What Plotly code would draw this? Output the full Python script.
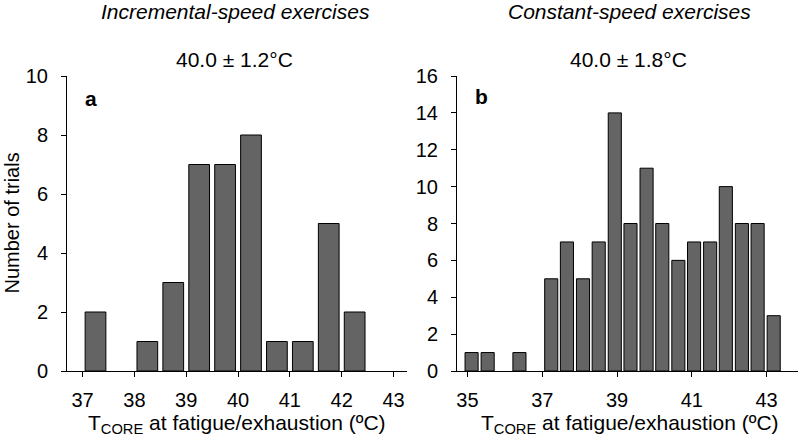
import plotly.graph_objects as go

# ---- data ----
inc_centers = [37.25, 38.25, 38.75, 39.25, 39.75, 40.25, 40.75, 41.25, 41.75, 42.25]
inc_counts = [2, 1, 3, 7, 7, 8, 1, 1, 5, 2]

const_centers = [35.11, 35.54, 36.39, 37.24, 37.66, 38.09, 38.51, 38.94, 39.36,
                 39.79, 40.21, 40.64, 41.06, 41.49, 41.91, 42.34, 42.76, 43.19]
const_counts = [1, 1, 1, 5, 7, 5, 7, 14, 8, 11, 8, 6, 7, 7, 10, 8, 8, 3]

inc_ticks = [37, 38, 39, 40, 41, 42, 43]
const_ticks = [35, 37, 39, 41, 43]
inc_yticks = [0, 2, 4, 6, 8, 10]
const_yticks = [0, 2, 4, 6, 8, 10, 12, 14, 16]

titles = ["Incremental-speed exercises", "Constant-speed exercises"]
subtitles = ["40.0 ± 1.2°C", "40.0 ± 1.8°C"]
panel_labels = ["a", "b"]
x_title = "T<sub>CORE</sub> at fatigue/exhaustion (ºC)"
y_title = "Number of trials"

# ---- figure ----
W, H = 800, 446
FONT = "Liberation Sans, Arial, sans-serif"
FS = 20
BAR = "#646464"

def px(x):
    return x / W

def py(y):
    return (H - y) / H

fig = go.Figure()
fig.add_trace(go.Bar(x=inc_centers, y=inc_counts, width=0.4,
                     marker=dict(color=BAR, line=dict(color="black", width=1)),
                     xaxis="x", yaxis="y", showlegend=False))
fig.add_trace(go.Bar(x=const_centers, y=const_counts, width=0.35,
                     marker=dict(color=BAR, line=dict(color="black", width=1)),
                     xaxis="x2", yaxis="y2", showlegend=False))

axis_common = dict(showgrid=False, zeroline=False, showline=True, linecolor="black",
                   linewidth=1, ticks="outside", ticklen=5, tickcolor="black",
                   automargin=False,
                   tickfont=dict(family=FONT, size=FS, color="black"))

ydom = [py(371), py(76)]
fig.update_layout(
    width=W, height=H, margin=dict(l=0, r=0, t=0, b=0, autoexpand=False),
    plot_bgcolor="white", paper_bgcolor="white",
    font=dict(family=FONT, size=FS, color="black"),
    xaxis=dict(domain=[px(67), px(407)], range=[36.7, 43.26], tickvals=inc_ticks,
               anchor="y", ticklabelstandoff=6, **axis_common),
    yaxis=dict(domain=ydom, range=[0, 10], tickvals=inc_yticks, anchor="x",
               ticklabelstandoff=9, **axis_common),
    xaxis2=dict(domain=[px(457), px(798)], range=[34.72, 43.84], tickvals=const_ticks,
                anchor="y2", ticklabelstandoff=6, **axis_common),
    yaxis2=dict(domain=ydom, range=[0, 16], tickvals=const_yticks, anchor="x2",
                ticklabelstandoff=9, **axis_common),
)

ann = []
for cx, t, s, lab, lx, ly in [(235.5, titles[0], subtitles[0], panel_labels[0], 90.7, 99),
                              (629, titles[1], subtitles[1], panel_labels[1], 481.5, 97)]:
    ann.append(dict(x=px(cx), y=py(12), xref="paper", yref="paper", text="<i>" + t + "</i>",
                    showarrow=False, xanchor="center", yanchor="middle",
                    font=dict(family=FONT, size=21, color="black")))
    ann.append(dict(x=px(cx - 1), y=py(59), xref="paper", yref="paper", text=s,
                    showarrow=False, xanchor="center", yanchor="middle",
                    font=dict(family=FONT, size=21, color="black")))
    ann.append(dict(x=px(lx), y=py(ly), xref="paper", yref="paper", text="<b>" + lab + "</b>",
                    showarrow=False, xanchor="center", yanchor="middle",
                    font=dict(family=FONT, size=21, color="black")))
    ann.append(dict(x=px(cx + 1), y=py(424), xref="paper", yref="paper", text=x_title,
                    showarrow=False, xanchor="center", yanchor="middle",
                    font=dict(family=FONT, size=21, color="black")))

ann.append(dict(x=px(11), y=py(223.5), xref="paper", yref="paper", text=y_title,
                showarrow=False, textangle=-90, xanchor="center", yanchor="middle",
                font=dict(family=FONT, size=FS, color="black")))
fig.update_layout(annotations=ann)

fig.write_html("out.html", config={"displayModeBar": False},
               post_script="document.body.style.margin='0';")
